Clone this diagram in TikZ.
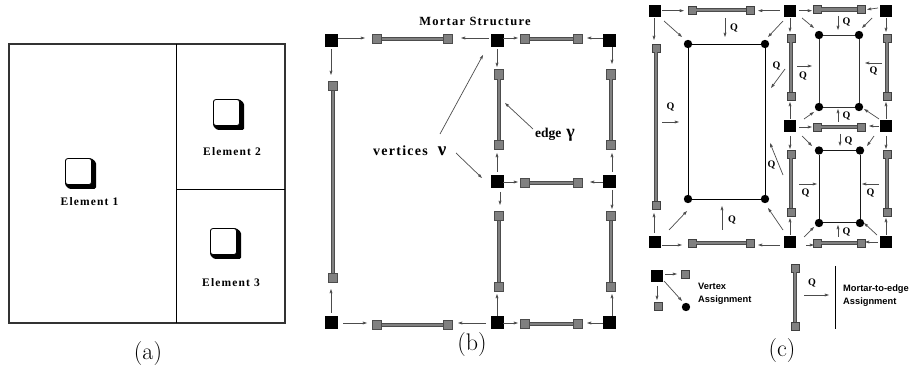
\documentclass[tikz,border=0pt]{standalone}
\usepackage{fontspec}
\usetikzlibrary{arrows.meta}
\newfontfamily\elfont[LetterSpace=10]{Liberation Serif}
\newfontfamily\vfont[LetterSpace=9]{Liberation Serif}
\newfontfamily\plainserif{Liberation Serif}
\newfontfamily\legfont{Liberation Sans}
\tikzset{
  blkA/.style={draw=none,fill=black,minimum size=13pt,inner sep=0pt,outer sep=0pt},
  gryA/.style={draw=black!70,fill=black!50,line width=.8pt,minimum size=9.5pt,inner sep=0pt,outer sep=0pt},
  blkC/.style={draw=none,fill=black,minimum size=11.5pt,inner sep=0pt,outer sep=0pt},
  gryC/.style={draw=black!75,fill=black!50,line width=.8pt,minimum size=8pt,inner sep=0pt,outer sep=0pt},
  dotC/.style={circle,draw=none,fill=black,minimum size=8.4pt,inner sep=0pt,outer sep=0pt},
  barline/.style={draw=black!70,line width=1pt,double=black!50,double distance=2.4pt},
  arw/.style={draw=black!70,line width=.7pt,-{Stealth[length=8pt,width=5.5pt,inset=5pt,fill=black!55]}},
  wall/.style={draw=black!80,line width=1.3pt},
  innerwall/.style={draw=black,line width=.8pt},
  ellabel/.style={inner sep=0pt,font=\elfont\bfseries\fontsize{11.5}{12}\selectfont},
  qlabel/.style={inner sep=0pt,font=\plainserif\bfseries\fontsize{10}{11}\selectfont},
  leglabel/.style={inner sep=0pt,anchor=west,align=left,font=\legfont\bfseries\fontsize{9.3}{13}\selectfont},
  caplabel/.style={inner sep=0pt,font=\fontsize{24}{26}\selectfont},
}
\begin{document}
\begin{tikzpicture}[x=1pt,y=-1pt]
\useasboundingbox (0,0) rectangle (911,374);
% ---------- panel (a)
\coordinate (aNW) at (9,44); \coordinate (aSE) at (285,323);
\coordinate (aT) at (176.5,44); \coordinate (aB) at (176.5,323);
\coordinate (aM) at (176.5,189); \coordinate (aR) at (285,189);
\draw[wall] (aNW) rectangle (aSE);
\draw[innerwall] (aT) -- (aB);
\draw[innerwall] (aM) -- (aR);
\foreach \x/\y in {65/158,213/99,210/228}{
  \fill[black,rounded corners=1.5pt] (\x,\y+1) -- (\x+26,\y) -- (\x+31,\y+4) -- (\x+31,\y+31) -- (\x+4,\y+31) -- (\x,\y+27) -- cycle;
  \draw[fill=white,draw=black,line width=.8pt,rounded corners=2.5pt] (\x+.5,\y+.5) rectangle (\x+26.5,\y+26.5);
}
\node[ellabel] (el1) at (89.5,202) {Element 1};
\node[ellabel] (el2) at (232,152) {Element 2};
\node[ellabel] (el3) at (231,283) {Element 3};
\node[caplabel] (capa) at (148,354) {(a)};
% ---------- panel (b)
\foreach \n/\x/\y in {b1/331/40.5,b2/497/40.5,b3/609/40.5,b4/497/182,b5/609/182,b6/331/323,b7/497/323,b8/609/323}
  \node[blkA] (\n) at (\x,\y) {};
\foreach \n/\x/\y in {
  g1/377/39,g2/448/39,g3/525/39,g4/578/39,
  g5/333/86,g6/333/278,
  g7/499/74.5,g8/499/145,g9/611/74.5,g10/611/145,
  g11/525/183,g12/578/183,
  g13/499/216,g14/499/287,g15/611/216,g16/611/287,
  g17/377/325,g18/448/325,g19/525/324,g20/578/324}
  \node[gryA] (\n) at (\x,\y) {};
\foreach \a/\b in {g1/g2,g3/g4,g5/g6,g7/g8,g9/g10,g11/g12,g13/g14,g15/g16,g17/g18,g19/g20}
  \draw[barline] (\a) -- (\b);
\foreach \xa/\ya/\xb/\yb in {
  338/38/365/38, 489/38/461/38, 503/38/518/38, 603/38/587/38,
  331/49/331/75, 497/49/497/67, 612/47/612/64,
  497/172/497/153, 612/172/612/153,
  503/182/518/182, 603/182/590/182,
  500/192/500/205, 612/190/612/209,
  331/313/331/289,
  343/323/367/323, 486/323/458/323, 497/316/497/294, 612/316/612/294,
  503/323/518/323, 603/323/587/323,
  440/134/483/55, 456/153/482/178, 533/129/505/103}{
  \coordinate (p) at (\xa,\ya); \coordinate (q) at (\xb,\yb);
  \draw[arw] (p) -- (q);
}
\node[inner sep=0pt,font=\elfont\bfseries\fontsize{12.5}{13}\selectfont] (mort) at (475,21) {Mortar Structure};
\node[inner sep=0pt,anchor=base west,font=\vfont\bfseries\fontsize{14}{15}\selectfont] (vert) at (373,155.5) {vertices\hspace{10pt}{\fontsize{19}{19}\selectfont ν}};
\node[inner sep=0pt,anchor=base west,font=\plainserif\bfseries\fontsize{13.5}{14}\selectfont] (edge) at (535,138) {edge\hspace{5pt}{\fontsize{18}{18}\selectfont γ}};
\node[caplabel] (capb) at (472,345) {(b)};
% ---------- panel (c)
\foreach \n/\x/\y in {c1/655/11,c2/790/11,c3/886/11,c4/790/126,c5/886/126,c6/655/242,c7/790/242,c8/886/242,cL/657/276}
  \node[blkC] (\n) at (\x,\y) {};
\foreach \n/\x/\y in {
  h1/692/10,h2/750/10,h3/817/9.5,h4/861/9.5,
  h5/656/48,h6/656/205,
  h7/791/38,h8/791/96,h9/887/38,h10/887/96,
  h11/817/127,h12/861/127,
  h13/791/154,h14/791/212,h15/887/154,h16/887/212,
  h17/692/243,h18/750/243,h19/817/243,h20/861/243,
  hL1/685/274.5,hL2/658/306,hL3/795/268,hL4/795/326}
  \node[gryC] (\n) at (\x,\y) {};
\foreach \a/\b in {h1/h2,h3/h4,h5/h6,h7/h8,h9/h10,h11/h12,h13/h14,h15/h16,h17/h18,h19/h20,hL3/hL4}
  \draw[barline] (\a) -- (\b);
\foreach \n/\x/\y in {
  d1/688/44,d2/765/44,d3/765/199,d4/688/199,
  d5/819/35,d6/859/35,d7/859/107,d8/819/107,
  d9/819/150.5,d10/860/150.5,d11/860/223,d12/819/223,dL/686/307}
  \node[dotC] (\n) at (\x,\y) {};
\draw[black,line width=.8pt] (d1)--(d2)--(d3)--(d4)--(d1);
\draw[black!80,line width=.9pt] (d5)--(d6)--(d7)--(d8)--(d5);
\draw[black!90,line width=1pt] (d9)--(d10)--(d11)--(d12)--(d9);
\foreach \xa/\ya/\xb/\yb in {
  662/10.7/684/10.7, 780/10.7/758/10.7, 799/10.7/812/10.7, 878/8/867/9.5,
  654/18/654/40, 790/18/790/32, 886/18/886/32,
  664/21/682/37, 783/21/768/37, 802/18/814/28, 872/18/862/28,
  725/18/725/37, 838/16/838/30,
  785/69/771/88, 797/66/812/66, 882/63/865/63,
  662/122/679/122, 790/119/790/102, 886/119/886/102,
  804/119/814/112, 879/119/864/109, 838/122/838/109,
  799/127/812/127, 879/126/869/126,
  790/136/790/149, 886/136/886/149,
  802/136/812/146, 874/136/867/146, 840/134/840/146,
  799/184/817/184, 879/184/862/184, 783/175/770/143,
  790/235/790/218, 886/235/886/218,
  804/237/814/227, 877/235/864/223, 838/237/838/225,
  722/230/722/206, 669/230/687/211, 783/230/768/208, 654/233/654/213,
  662/245/682/245, 780/245/758/245, 806/245/814/245, 878/242/865/242,
  665/274/677/274, 657/286/657/300, 664/281/682/301, 804/295/829/295}{
  \coordinate (p) at (\xa,\ya); \coordinate (q) at (\xb,\yb);
  \draw[arw] (p) -- (q);
}
\foreach \n/\x/\y in {
  q1/734/28,q2/846.5/22,q3/776.5/66,q4/803/76,q5/873.5/71,q6/670.5/107,q7/846.5/116,
  q8/848.5/141,q9/805.5/193,q10/870.5/193,q11/771.5/165,q12/846.5/232,q13/732/220,q14/812/283}
  \node[qlabel] (\n) at (\x,\y) {Q};
\coordinate (lT) at (835,266); \coordinate (lB) at (835,329);
\draw[black,line width=.8pt] (lT) -- (lB);
\node[leglabel] (lv) at (698,293.5) {Vertex\\Assignment};
\node[leglabel] (lm) at (843,295.5) {Mortar-to-edge\\Assignment};
\node[caplabel] (capc) at (782,351) {(c)};
\end{tikzpicture}
\end{document}
